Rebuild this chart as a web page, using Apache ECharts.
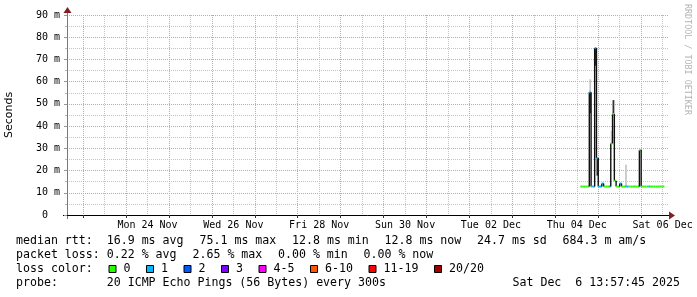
<!DOCTYPE html>
<html><head><meta charset="utf-8">
<script src="https://cdn.jsdelivr.net/npm/echarts@6/dist/echarts.min.js"></script>
<style>html,body{margin:0;padding:0;background:#fff}#c{width:697px;height:297px}</style>
</head><body><div id="c"></div>
<script>
// x unit: hours since Sat 22 Nov 2025 00:00
const hours = [302,303,304,305,306,307,308,309,310,311,312,313,314,315,316,317,318,319,320,321,322,323,324,325,326,327,328,329,330,331,332,333,334,335,336,337,338,339,340,341,342,343,344,345,346,347,348];
const medianMs = [12.8,12.8,12.8,12.8,12.8,55.2,12.8,12.8,75.1,25.6,12.8,12.8,14.2,12.8,12.8,12.8,12.8,32.2,45.4,15.4,12.8,12.8,14.2,12.8,12.8,12.8,12.8,12.8,12.8,12.8,12.8,12.8,12.8,29.2,12.8,12.8,12.8,12.8,12.8,12.8,12.8,12.8,12.8,12.8,12.8,12.8,12.8];
const lossCount = [0,0,0,0,0,1,1,1,1,1,1,1,1,0,0,0,1,0,0,0,0,0,1,0,0,1,1,0,0,0,0,0,0,0,0,0,0,0,1,0,0,0,0,0,0,0,0];
const smokeHours = [307,307,310,311,319,320,327];
const smokeLow = [45.8,55.2,67.2,17.7,32.2,45.4,12.8];
const smokeHigh = [55.2,61.1,75.1,25.6,37.9,51.7,22.6];
const smokeDark = [1,0,1,1,0,1,0];
const dayTickHours = [24,48,72,96,120,144,168,192,216,240,264,288,312,336];
const halfDayHours = [36,60,84,108,132,156,180,204,228,252,276,300,324,348];
const xLabelHours = [60,108,156,204,252,300,348];
const xLabelTexts = ['Mon 24 Nov','Wed 26 Nov','Fri 28 Nov','Sun 30 Nov','Tue 02 Dec','Thu 04 Dec','Sat 06 Dec'];
const yTickValues = [0,10,20,30,40,50,60,70,80,90];
const yTickLabels = ['0  ','10 m','20 m','30 m','40 m','50 m','60 m','70 m','80 m','90 m'];
const yMinorValues = [5,15,25,35,45,55,65,75,85];
const lossLabels = ['0','1','2','3','4-5','6-10','11-19','20/20'];
const lossColors = ['#26ff00','#00b8ff','#0059ff','#7e00ff','#ff00ff','#ff5500','#ff0000','#a10000'];
const lossUpper = [0,1,2,3,5,10,19,20];
const statsLine1 = ['median rtt:  16.9 ms avg','75.1 ms max','12.8 ms min','12.8 ms now','24.7 ms sd','684.3 m am/s'];
const statsLine2 = ['packet loss: 0.22 % avg','2.65 % max','0.00 % min','0.00 % now'];
const lossTitle = 'loss color:';
const probeText = 'probe:       20 ICMP Echo Pings (56 Bytes) every 300s';
const dateText = 'Sat Dec  6 13:57:45 2025';
const watermark = 'RRDTOOL / TOBI OETIKER';

function lossColor(n){ for (let i=0;i<lossUpper.length;i++){ if (n<=lossUpper[i]) return lossColors[i]; } return lossColors[lossColors.length-1]; }

const MONO = '"DejaVu Sans Mono", monospace';
const LF = '11.6px ' + MONO;
const CW = 7.0, GAP = 15.5, LX = 16;
const MAJOR = 'rgb(238,150,150)', MINOR = 'rgb(196,196,196)';
const graphics = [];
function textLine(parts, y){
  let x = LX;
  parts.forEach(p => {
    graphics.push({type:'text', x:x, y:y, silent:true, style:{text:p, font:LF, fill:'#000', align:'left', verticalAlign:'middle'}});
    x += p.length*CW + GAP;
  });
}
textLine(statsLine1, 241);
textLine(statsLine2, 255);
(function(){
  const y = 269;
  graphics.push({type:'text', x:LX, y:y, silent:true, style:{text:lossTitle, font:LF, fill:'#000', align:'left', verticalAlign:'middle'}});
  let x = LX + lossTitle.length*CW + GAP;
  lossLabels.forEach((lab,i) => {
    graphics.push({type:'rect', silent:true, shape:{x:x+0.5, y:y-3.5, width:7, height:7}, style:{fill:lossColors[i], stroke:'#000', lineWidth:1}});
    graphics.push({type:'text', x:x+15, y:y, silent:true, style:{text:lab, font:LF, fill:'#000', align:'left', verticalAlign:'middle'}});
    x += 15 + lab.length*CW + GAP;
  });
})();
graphics.push({type:'text', x:LX, y:283, silent:true, style:{text:probeText, font:LF, fill:'#000', align:'left', verticalAlign:'middle'}});
graphics.push({type:'text', x:680, y:283, silent:true, style:{text:dateText, font:LF, fill:'#000', align:'right', verticalAlign:'middle'}});
graphics.push({type:'text', x:687.5, y:4, rotation:-Math.PI/2, silent:true, style:{text:watermark, font:'8.4px ' + MONO, fill:'#b4b4b4', align:'left', verticalAlign:'middle'}});
graphics.push({type:'line', silent:true, shape:{x1:63, y1:215.5, x2:67, y2:215.5}, style:{stroke:'#000', lineWidth:1}});
graphics.push({type:'line', silent:true, shape:{x1:668, y1:215.5, x2:670, y2:215.5}, style:{stroke:'#000', lineWidth:1}});
graphics.push({type:'line', silent:true, shape:{x1:67.5, y1:12, x2:67.5, y2:15}, style:{stroke:'#777', lineWidth:1}});
graphics.push({type:'line', silent:true, shape:{x1:67.5, y1:215, x2:67.5, y2:219}, style:{stroke:'#777', lineWidth:1}});
graphics.push({type:'polygon', silent:true, shape:{points:[[63.5,13],[71.5,13],[67.5,7]]}, style:{fill:'#801f1f'}});
graphics.push({type:'polygon', silent:true, shape:{points:[[669,211.5],[669,219.5],[675,215.5]]}, style:{fill:'#801f1f'}});

function gridAxis(vals, color){
  return {type:'value', min:15, max:351, position:'bottom',
    axisLine:{show:false}, axisLabel:{show:false},
    axisTick:{show:false, customValues:vals},
    splitLine:{show:true, lineStyle:{color:color, type:[1,1], width:1}}};
}

const chart = echarts.init(document.getElementById('c'), null, {renderer:'canvas'});
chart.setOption({
  animation:false,
  backgroundColor:'#fff',
  grid:{left:67, right:29, top:15, bottom:82, containLabel:false, outerBoundsMode:'none'},
  xAxis:[{
    type:'value', min:15, max:351,
    axisLine:{show:true, onZero:false, lineStyle:{color:'#000', width:1}},
    axisTick:{show:true, customValues:dayTickHours, length:3, lineStyle:{color:'#333'}},
    axisLabel:{show:true, customValues:xLabelHours, hideOverlap:false,
      formatter:v => xLabelTexts[xLabelHours.indexOf(v)] || '',
      fontFamily:'DejaVu Sans Mono', fontSize:10, color:'#000', margin:5},
    splitLine:{show:true, lineStyle:{color:MAJOR, type:[1,1], width:1}}
  }, gridAxis(halfDayHours, MINOR)],
  yAxis:[{
    type:'value', min:0, max:90, interval:10,
    axisLine:{show:true, lineStyle:{color:'#777'}},
    axisTick:{show:true, length:3, lineStyle:{color:'#999'}},
    axisLabel:{formatter:v => yTickLabels[yTickValues.indexOf(v)], fontFamily:'DejaVu Sans Mono', fontSize:10, color:'#000', margin:7},
    splitLine:{show:true, lineStyle:{color:MAJOR, type:[1,1], width:1}},
    name:'Seconds', nameLocation:'middle', nameGap:52, nameRotate:90,
    nameTextStyle:{fontFamily:'DejaVu Sans', fontSize:11, color:'#000'}
  },{
    type:'value', min:0, max:90, position:'left',
    axisLine:{show:false}, axisLabel:{show:false},
    axisTick:{show:true, inside:false, length:2, customValues:yMinorValues, lineStyle:{color:'#bbb'}},
    splitLine:{show:true, lineStyle:{color:MINOR, type:[1,1], width:1}}
  }],
  graphic:graphics,
  series:[{
    type:'custom', xAxisIndex:0, yAxisIndex:0, silent:true,
    data: smokeHours.map((h,i)=>[h, smokeLow[i], smokeHigh[i], smokeDark[i]]),
    encode:{x:0, y:[1,2]},
    renderItem:(params, api) => {
      const h=api.value(0), lo=api.value(1), hi=api.value(2), dark=api.value(3);
      const p0=api.coord([h,hi]), p1=api.coord([h+1,lo]);
      return {type:'rect', shape:{x:p0[0], y:p0[1], width:p1[0]-p0[0], height:p1[1]-p0[1]}, style:{fill: dark ? '#333333' : '#c8c8c8'}};
    }
  },{
    type:'custom', xAxisIndex:0, yAxisIndex:0, silent:true,
    data: hours.map((h,i)=>[h, medianMs[i], lossCount[i], i>0 ? medianMs[i-1] : medianMs[i]]),
    encode:{x:0, y:1},
    renderItem:(params, api) => {
      const h=api.value(0), v=api.value(1), loss=api.value(2), prev=api.value(3);
      const a=api.coord([h,v]), b=api.coord([h+1,v]), pp=api.coord([h,prev]);
      const children=[];
      if (prev!==v) children.push({type:'line', shape:{x1:a[0], y1:pp[1], x2:a[0], y2:a[1]}, style:{stroke:'#111', lineWidth:1.4}});
      children.push({type:'rect', shape:{x:a[0], y:a[1]-1, width:b[0]-a[0], height:2}, style:{fill:lossColor(loss)}});
      return {type:'group', children};
    }
  }]
});
</script></body></html>
